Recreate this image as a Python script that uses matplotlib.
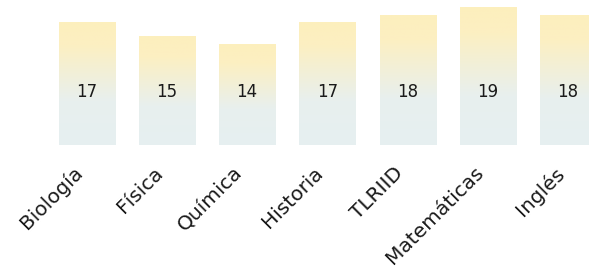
import numpy as np
import matplotlib.pyplot as plt
import matplotlib.transforms as mtransforms
from matplotlib.colors import LinearSegmentedColormap

materias = ['Biología', 'Física', 'Química', 'Historia', 'TLRIID', 'Matemáticas', 'Inglés']
valores = [17, 15, 14, 17, 18, 19, 18]

plt.rcParams['font.family'] = ['DejaVu Sans']

# gradient from light blue (bottom) to pale yellow (top)
cmap = LinearSegmentedColormap.from_list('grad', [(0.0, '#e6eff1'), (0.36, '#e8f0ee'),
                                                  (0.81, '#fcefc2'), (1.0, '#fdefbd')])
grad = np.linspace(0, 1, 256).reshape(-1, 1)

fig = plt.figure(figsize=(5.89, 2.71), dpi=100)
ax = fig.add_axes([0, 0.465, 1, 0.535])

x = np.arange(len(materias))
bars = ax.bar(x, valores, width=0.70, color='none', edgecolor='none')
for b in bars:
    x0, y0 = b.get_x(), b.get_y()
    ax.imshow(grad, cmap=cmap, origin='lower', aspect='auto',
              extent=[x0, x0 + b.get_width(), y0, y0 + b.get_height()], zorder=1)

for xi, v in zip(x, valores):
    ax.text(xi, 7.4, str(v), ha='center', va='center', fontsize=12, color='#1a1a1a', zorder=3)

ax.set_xlim(-1.08, 6.26)
ax.set_ylim(0, 20.1)
ax.set_xticks(x)
ax.set_xticklabels(materias, rotation=45, ha='right', rotation_mode='anchor',
                   fontsize=14.5, color='#1a1a1a')
ax.tick_params(axis='x', length=0, pad=13)
shift = mtransforms.ScaledTranslation(-10 / 72, 0, fig.dpi_scale_trans)
for lab in ax.get_xticklabels():
    lab.set_transform(lab.get_transform() + shift)
ax.set_yticks([])
for s in ax.spines.values():
    s.set_visible(False)
ax.patch.set_alpha(0)

fig.savefig('out.png', dpi=100)
